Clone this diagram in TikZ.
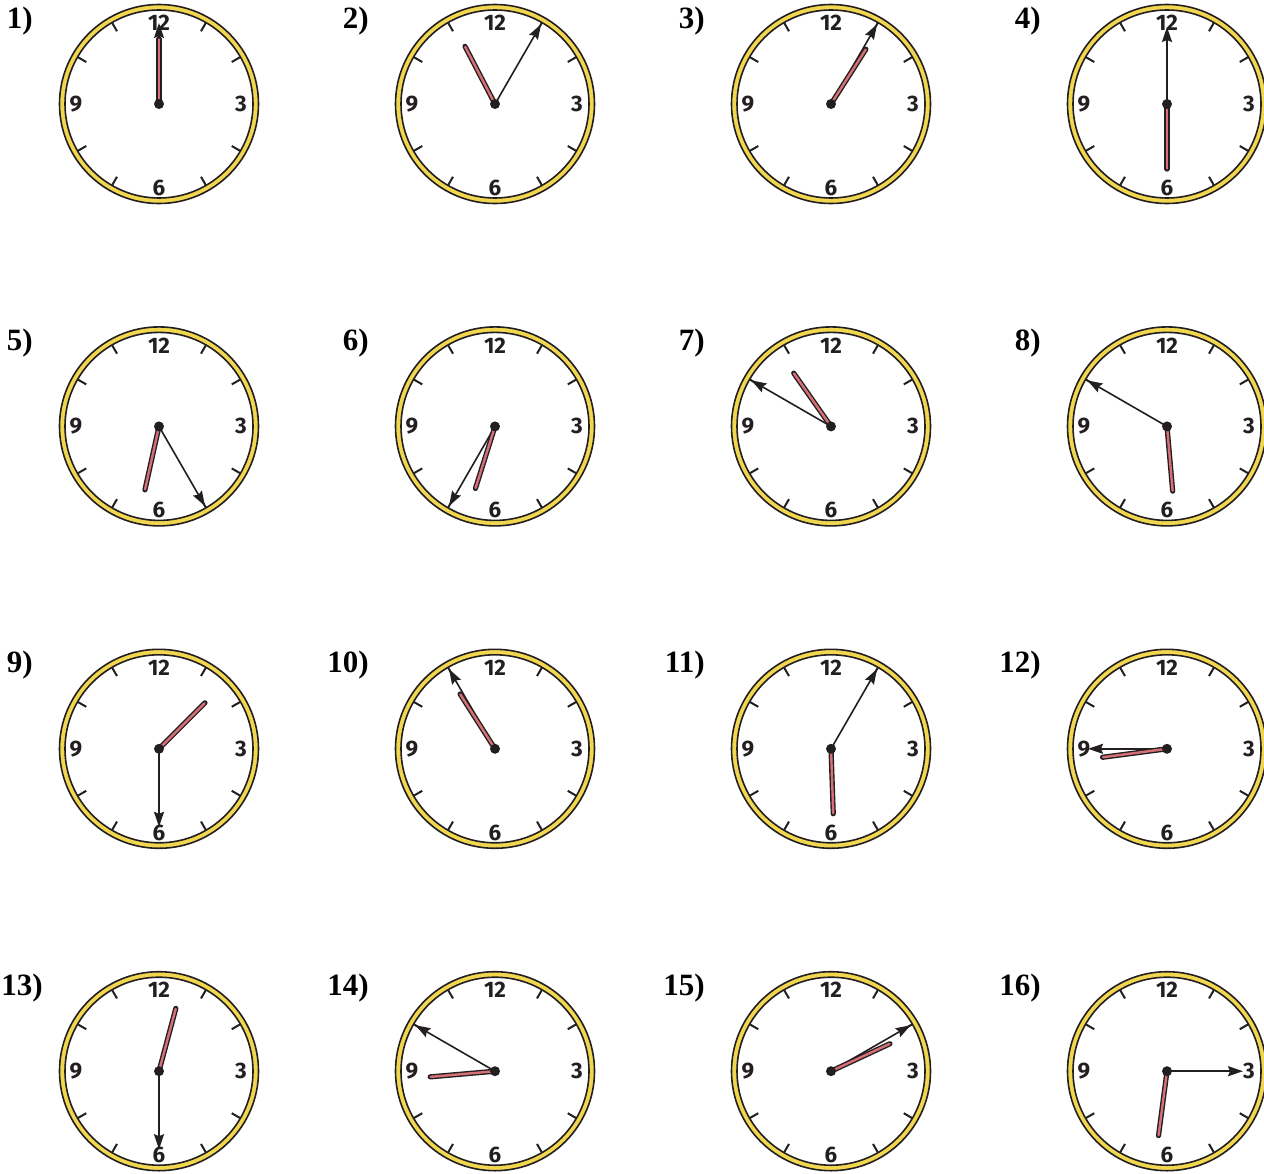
\documentclass[tikz,border=0pt]{standalone}
\usepackage{fontspec}
\setmainfont{Liberation Serif}
\newfontfamily\dialfont{Fira Sans}
\usetikzlibrary{arrows.meta}

\definecolor{ringgold}{RGB}{241,214,80}
\definecolor{inkdark}{RGB}{35,31,32}
\definecolor{handpink}{RGB}{214,112,118}

\begin{document}
\begin{tikzpicture}[
  x=0.5pt, y=0.5pt,
  >={Stealth[length=7.5pt, width=5pt, inset=1pt]},
  rim/.style={draw=inkdark, line width=0.8pt, fill=ringgold},
  face/.style={draw=inkdark, line width=0.8pt, fill=white},
  tick/.style={draw=inkdark, line width=1pt},
  dial/.style={font=\dialfont\bfseries\fontsize{11.2pt}{12pt}\selectfont,
               text=inkdark, inner sep=0pt},
  lbl/.style={font=\bfseries\fontsize{15.5pt}{16pt}\selectfont, inner sep=0pt},
  minhand/.style={->, draw=inkdark, fill=inkdark, line width=0.8pt},
  hourout/.style={draw=inkdark, line width=2.6pt, line cap=round},
  hourin/.style={draw=handpink, line width=1.2pt, line cap=round},
]

%% ===== PAGE =====
\useasboundingbox (0,0) rectangle (1264,-1173);

%% ===== CLOCKS: number / hour angle / minute angle / minute length =====
\foreach \n/\h/\m/\ml [count=\k from 0] in {
    1/0/0/81,        2/332.5/30/92,   3/32.5/30/92,    4/180/0/77,
    5/192.5/150/92,  6/197.5/210/92,  7/325/300/92,    8/175/300/92,
    9/45/180/78,     10/327.5/330/92, 11/178/30/92,    12/262.5/270/79,
    13/15/180/78,    14/265/300/92,   15/65/60/92,     16/187.5/90/76}{
  \pgfmathsetmacro\cx{159+336*mod(\k,4)}
  \pgfmathsetmacro\cy{-(104+322.4*floor(\k/4))}
  \pgfmathsetmacro\lx{\n>9 ? max(\cx-126,43) : \cx-126}
  \coordinate (c\n) at (\cx,\cy);

  % label
  \node[lbl, anchor=base east] (lbl\n) at (\lx,\cy+76) {\n)};

  % dial
  \draw[rim] (c\n) circle[radius=99.5];
  \draw[face] (c\n) circle[radius=94];
  \foreach \t in {30,60,120,150,210,240,300,330}
    \draw[tick] (c\n) ++(\t:84) -- ++(\t:10);
  \node[dial] (twelve\n) at (\cx,\cy+81) {12};
  \node[dial] (three\n) at (\cx+82,\cy) {3};
  \node[dial] (six\n) at (\cx,\cy-84) {6};
  \node[dial] (nine\n) at (\cx-83,\cy) {9};

  % hands
  \draw[minhand] (c\n) -- ++(90-\m:\ml);
  \draw[hourout] (c\n) -- ++(90-\h:65);
  \draw[hourin] (c\n) -- ++(90-\h:64.5);
  \fill[inkdark] (c\n) circle[radius=5];
}

\end{tikzpicture}
\end{document}
